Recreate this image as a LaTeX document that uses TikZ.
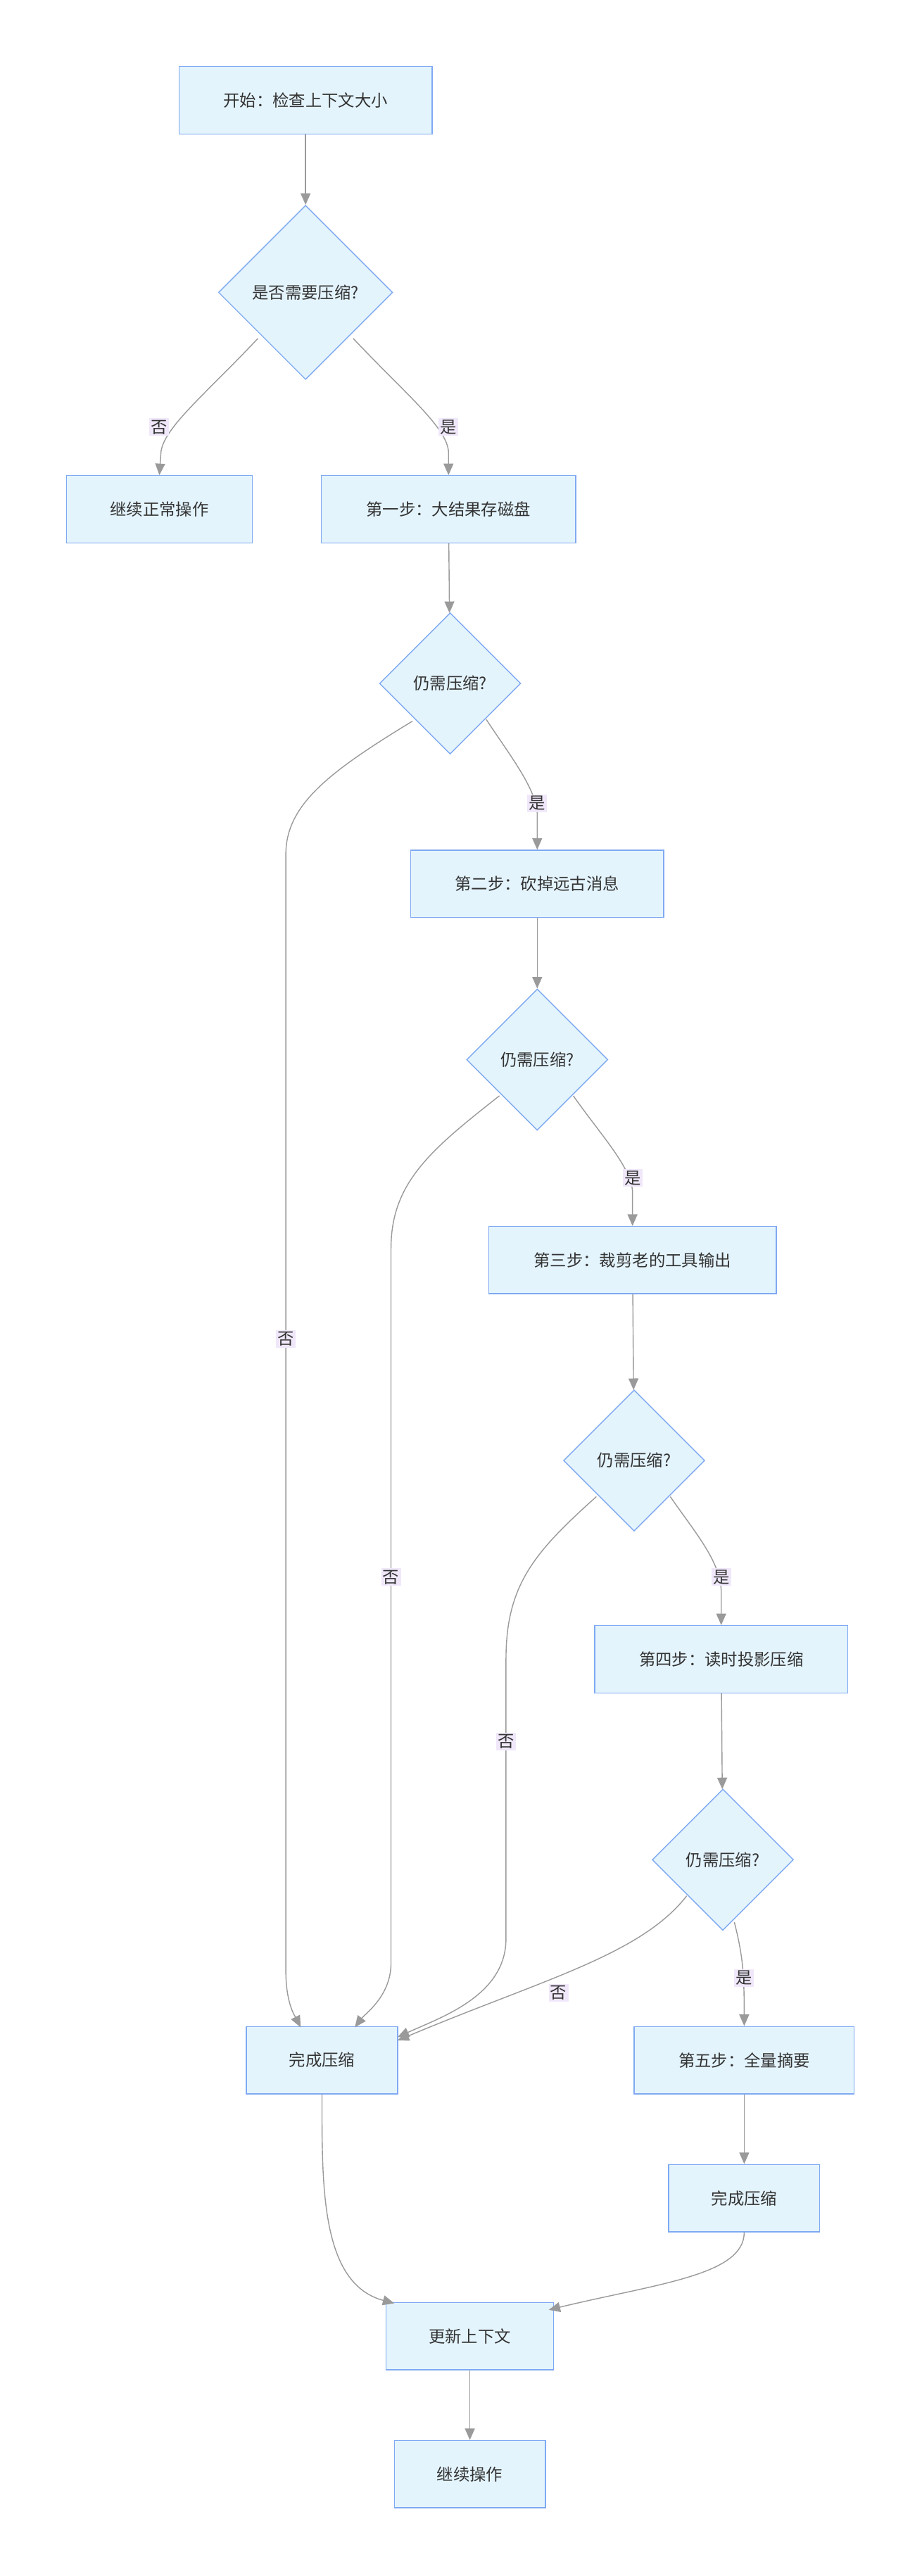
\documentclass[tikz,border=0pt]{standalone}
\usepackage{fontspec}
\setmainfont{Noto Sans CJK SC}
\usetikzlibrary{shapes.geometric,arrows.meta}
\definecolor{nfill}{HTML}{E4F4FD}
\definecolor{nline}{HTML}{7FA9F2}
\definecolor{eline}{HTML}{9A9A9A}
\definecolor{lfill}{HTML}{F0E8FA}
\definecolor{tcol}{HTML}{333333}
\begin{document}
\begin{tikzpicture}[x=1pt,y=-1pt,
  box/.style={draw=nline,fill=nfill,line width=0.6pt,minimum height=41pt,inner sep=0pt,font=\fontsize{10}{12}\selectfont,text=tcol},
  dia/.style={draw=nline,fill=nfill,line width=0.6pt,diamond,aspect=1,inner sep=0pt,font=\fontsize{10}{12}\selectfont,text=tcol},
  lbl/.style={fill=lfill,inner sep=1pt,font=\fontsize{10}{12}\selectfont,text=tcol},
  e/.style={draw=eline,line width=0.6pt,-{Triangle[length=7pt,width=6pt,fill=eline]}}]
\useasboundingbox[fill=white] (0,0) rectangle (561,1568);
\node[box,minimum width=154pt] (start) at (186,61) {开始：检查上下文大小};
\node[dia,minimum width=106pt,minimum height=106pt] (d1) at (186,178) {是否需要压缩?};
\node[box,minimum width=113pt] (cont) at (97,310) {继续正常操作};
\node[box,minimum width=155pt] (s1) at (273,310) {第一步：大结果存磁盘};
\node[dia,minimum width=86pt,minimum height=86pt] (d2) at (274,416) {仍需压缩?};
\node[box,minimum width=154pt] (s2) at (327,538) {第二步：砍掉远古消息};
\node[dia,minimum width=86pt,minimum height=86pt] (d3) at (327,645) {仍需压缩?};
\node[box,minimum width=175pt] (s3) at (385,767) {第三步：裁剪老的工具输出};
\node[dia,minimum width=86pt,minimum height=86pt] (d4) at (386,889) {仍需压缩?};
\node[box,minimum width=154pt] (s4) at (439,1010) {第四步：读时投影压缩};
\node[dia,minimum width=86pt,minimum height=86pt] (d5) at (440,1132) {仍需压缩?};
\node[box,minimum width=92pt] (done1) at (196,1254) {完成压缩};
\node[box,minimum width=134pt] (s5) at (453,1254) {第五步：全量摘要};
\node[box,minimum width=92pt] (done2) at (453,1338) {完成压缩};
\node[box,minimum width=102pt] (upd) at (286,1422) {更新上下文};
\node[box,minimum width=92pt] (cont2) at (286,1506) {继续操作};

\draw[e] (start) -- (d1);
\draw[e] (d1.south west) ++(-1,-1) coordinate (a1) (157,206) .. controls (125,240) and (100,260) .. (98,275) -- (cont.north);
\draw[e] (215,206) .. controls (247,240) and (272,260) .. (273,275) -- (s1.north);
\node[lbl] (l1) at (97,260) {否};
\node[lbl] (l2) at (273,260) {是};
\draw[e] (s1) -- (d2);
\draw[e] (296,438) .. controls (312,462) and (326,480) .. (327,495) -- (s2.north);
\node[lbl] (l3) at (327,489) {是};
\draw[e] (251,439) .. controls (200,470) and (174,490) .. (174,520) -- (174,1200) .. controls (174,1220) and (180,1228) .. (183,1234);
\node[lbl] (l4) at (174,815) {否};
\draw[e] (s2) -- (d3);
\draw[e] (349,667) .. controls (365,690) and (384,710) .. (385,725) -- (s3.north);
\node[lbl] (l5) at (385,717) {是};
\draw[e] (304,667) .. controls (262,700) and (238,720) .. (238,760) -- (238,1195) .. controls (238,1215) and (222,1226) .. (216,1234);
\node[lbl] (l6) at (238,960) {否};
\draw[e] (s3) -- (d4);
\draw[e] (408,911) .. controls (424,934) and (438,950) .. (439,968) -- (s4.north);
\node[lbl] (l7) at (439,960) {是};
\draw[e] (363,911) .. controls (325,945) and (308,965) .. (308,1010) -- (308,1180) .. controls (308,1215) and (268,1228) .. (242,1240);
\node[lbl] (l8) at (308,1060) {否};
\draw[e] (s4) -- (d5);
\draw[e] (447,1170) .. controls (452,1190) and (453,1200) .. (s5.north);
\node[lbl] (l9) at (453,1204) {是};
\draw[e] (418,1154) .. controls (390,1190) and (330,1205) .. (242,1242);
\node[lbl] (l10) at (340,1213) {否};
\draw[e] (s5) -- (done2);
\draw[e] (done1.south) .. controls (196,1330) and (195,1390) .. (240,1402);
\draw[e] (done2.south) .. controls (453,1385) and (400,1390) .. (334,1406);
\draw[e] (upd) -- (cont2);
\end{tikzpicture}
\end{document}
